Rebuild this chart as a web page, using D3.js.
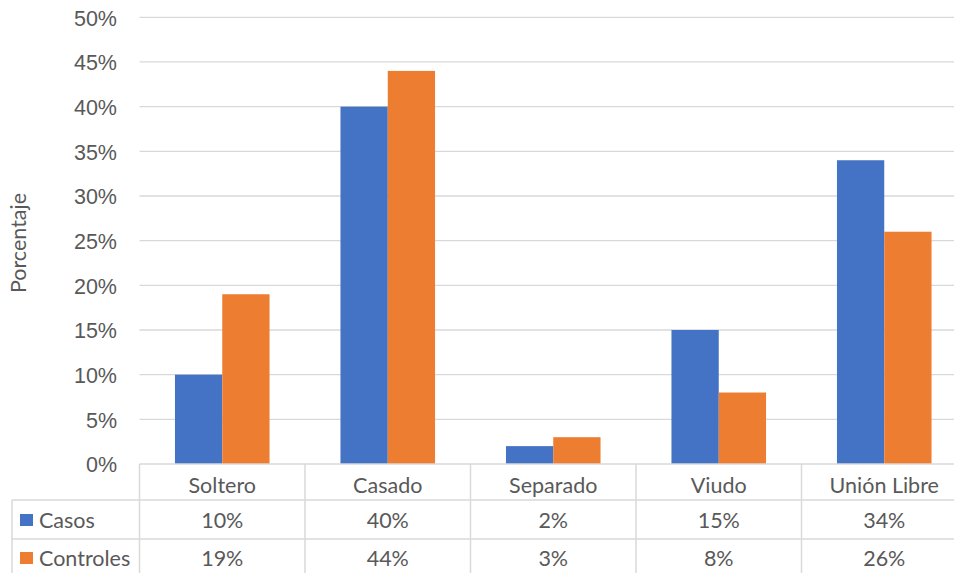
<!DOCTYPE html>
<html>
<head>
<meta charset="utf-8">
<script src="https://cdn.jsdelivr.net/npm/d3@7"></script>
<style>
  html, body { margin: 0; padding: 0; background: #fff; overflow: hidden; }
  svg { display: block; font-family: Lato, "Open Sans", sans-serif; }
</style>
</head>
<body>
<svg id="chart" width="954" height="573"></svg>
<script>
// Estado civil: porcentaje de casos y controles
const categories = ["Soltero", "Casado", "Separado", "Viudo", "Unión Libre"];
const seriesNames = ["Casos", "Controles"];
const casos = [10, 40, 2, 15, 34];
const controles = [19, 44, 3, 8, 26];
const yTicks = [0, 5, 10, 15, 20, 25, 30, 35, 40, 45, 50];
const colors = ["#4472C4", "#ED7D31"];

const seriesValues = [casos, controles];
const svg = d3.select("#chart");

const plotLeft = 139.5, plotRight = 967, plotTop = 17.3, plotBottom = 464;
const rowBottoms = [500, 539, 578];
const tableLeft = 12;
const textColor = "#595959";
const gridColor = "#D9D9D9";
const fontSize = "21.5px";

const x0 = d3.scaleBand().domain(categories).range([plotLeft, plotRight]).padding(0);
const barW = x0.bandwidth() / 3.5;   // gap width 150%
const x1 = d3.scaleBand().domain(seriesNames).range([0, 2 * barW]).padding(0);
const y = d3.scaleLinear().domain([0, 50]).range([plotBottom, plotTop]);

// Gridlines
svg.append("g")
  .selectAll("line")
  .data(yTicks.filter(t => t > 0))
  .join("line")
  .attr("x1", plotLeft).attr("x2", plotRight)
  .attr("y1", d => y(d)).attr("y2", d => y(d))
  .attr("stroke", gridColor).attr("stroke-width", 1.3);

// Y axis labels
const yAxis = d3.axisLeft(y).tickValues(yTicks).tickFormat(d => d + "%").tickSize(0).tickPadding(0);
const gy = svg.append("g").attr("transform", `translate(117,0)`).call(yAxis);
gy.select(".domain").remove();
gy.selectAll("text")
  .attr("fill", textColor)
  .style("font-size", fontSize)
  .attr("dy", "0.36em");

// Y axis title
svg.append("text")
  .attr("transform", `translate(26,243) rotate(-90)`)
  .attr("text-anchor", "middle")
  .attr("fill", textColor)
  .style("font-size", fontSize)
  .text("Porcentaje");

// Bars
const groups = svg.append("g")
  .selectAll("g")
  .data(categories)
  .join("g")
  .attr("transform", d => `translate(${x0(d) + (x0.bandwidth() - 2 * barW) / 2},0)`);

groups.selectAll("rect")
  .data((c, i) => seriesNames.map((s, j) => ({ s, j, v: seriesValues[j][i] })))
  .join("rect")
  .attr("x", d => x1(d.s))
  .attr("width", x1.bandwidth())
  .attr("y", d => y(d.v))
  .attr("height", d => y(0) - y(d.v))
  .attr("fill", d => colors[d.j]);

// Data table grid
const tg = svg.append("g").attr("stroke", gridColor).attr("stroke-width", 1.5);
tg.append("line").attr("x1", plotLeft).attr("x2", plotRight).attr("y1", plotBottom).attr("y2", plotBottom);
rowBottoms.slice(0, 2).forEach(yy => {
  tg.append("line").attr("x1", tableLeft).attr("x2", plotRight).attr("y1", yy).attr("y2", yy);
});
tg.append("line").attr("x1", tableLeft).attr("x2", tableLeft).attr("y1", rowBottoms[0]).attr("y2", 573);
categories.forEach(c => {
  tg.append("line").attr("x1", x0(c)).attr("x2", x0(c)).attr("y1", plotBottom).attr("y2", 573);
});
tg.append("line").attr("x1", plotRight).attr("x2", plotRight).attr("y1", plotBottom).attr("y2", 573);

// Category labels
svg.append("g")
  .selectAll("text")
  .data(categories)
  .join("text")
  .attr("x", d => x0(d) + x0.bandwidth() / 2)
  .attr("y", 485)
  .attr("dy", "0.36em")
  .attr("text-anchor", "middle")
  .attr("fill", textColor)
  .style("font-size", fontSize)
  .text(d => d);

// Value rows with legend keys
seriesNames.forEach((s, j) => {
  const midY = j === 0 ? 520 : 558;
  svg.append("rect")
    .attr("x", 20).attr("y", midY - 6)
    .attr("width", 13).attr("height", 12)
    .attr("fill", colors[j]);
  svg.append("text")
    .attr("x", 39).attr("y", midY)
    .attr("dy", "0.36em")
    .attr("fill", textColor)
    .style("font-size", fontSize)
    .text(s);
  svg.append("g")
    .selectAll("text")
    .data(seriesValues[j])
    .join("text")
    .attr("x", (d, i) => x0(categories[i]) + x0.bandwidth() / 2)
    .attr("y", midY)
    .attr("dy", "0.36em")
    .attr("text-anchor", "middle")
    .attr("fill", textColor)
    .style("font-size", fontSize)
    .text(d => d + "%");
});
</script>
</body>
</html>
